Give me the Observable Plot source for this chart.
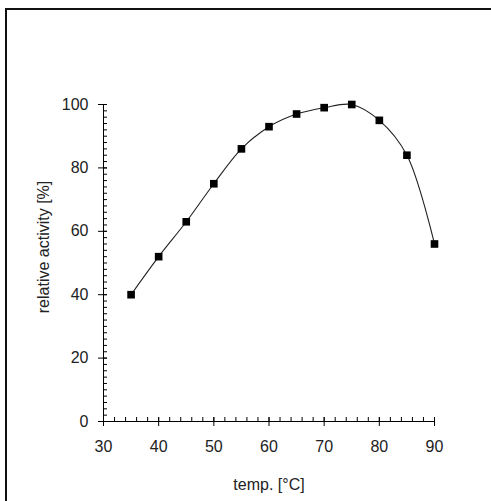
<!DOCTYPE html>
<html><head><meta charset="utf-8">
<script src="https://cdn.jsdelivr.net/npm/d3@7"></script>
<script src="https://cdn.jsdelivr.net/npm/@observablehq/plot@0.6"></script>
<style>
html,body{margin:0;padding:0;background:#fff;overflow:hidden;width:491px;height:501px}
#chart{position:absolute;left:0;top:0}
#frame{position:absolute;left:5px;top:8px;width:600px;height:600px;border-top:2px solid #111;border-left:2px solid #111;pointer-events:none}
</style></head><body>
<div id="chart"></div><div id="frame"></div>
<script>
const temps = [35, 40, 45, 50, 55, 60, 65, 70, 75, 80, 85, 90];
const activity = [40, 52, 63, 75, 86, 93, 97, 99, 100, 95, 84, 56];
const xTicks = [30, 40, 50, 60, 70, 80, 90];
const yTicks = [0, 20, 40, 60, 80, 100];
const xMinor = d3.range(30, 91, 2);
const yMinor = d3.range(0, 101, 2);
const xLabel = "temp. [°C]";
const yLabel = "relative activity [%]";

const data = temps.map((t, i) => ({temp: t, act: activity[i]}));

const chart = Plot.plot({
  width: 491,
  height: 501,
  marginLeft: 103,
  marginRight: 57,
  marginTop: 104,
  marginBottom: 80,
  style: {fontFamily: "'Liberation Sans', Arial, sans-serif", fontSize: "16px", color: "#222", background: "transparent"},
  x: {domain: [30, 90]},
  y: {domain: [0, 100]},
  marks: [
    // minor ticks (inward)
    Plot.axisX(xMinor, {tickSize: 4, dy: -4, fill: "none", label: null, stroke: "#000"}),
    Plot.axisY(yMinor, {tickSize: 4, dx: 4, fill: "none", label: null, stroke: "#000"}),
    // major ticks (crossing)
    Plot.axisX(xTicks, {tickSize: 9, dy: -4, fill: "none", label: null, stroke: "#000"}),
    Plot.axisY(yTicks, {tickSize: 9, dx: 4, fill: "none", label: null, stroke: "#000"}),
    // tick labels
    Plot.axisX(xTicks, {tickSize: 0, tickPadding: 19, label: null, fontSize: 16}),
    Plot.axisY(yTicks, {tickSize: 0, tickPadding: 15, label: null, fontSize: 16}),
    // axis lines
    Plot.ruleY([0], {stroke: "#000"}),
    Plot.ruleX([30], {stroke: "#000"}),
    // axis titles
    Plot.text([xLabel], {frameAnchor: "bottom", dy: 63, lineAnchor: "middle", textAnchor: "middle", fontSize: 16, fill: "#222"}),
    Plot.text([yLabel], {frameAnchor: "left", dx: -60, dy: -16, rotate: -90, lineAnchor: "middle", textAnchor: "middle", fontSize: 16, fill: "#222"}),
    // data
    Plot.line(data, {x: "temp", y: "act", curve: "catmull-rom", stroke: "#222", strokeWidth: 1.1}),
    Plot.dot(data, {x: "temp", y: "act", symbol: "square", r: 4.3, fill: "#000", stroke: "none"})
  ]
});
document.getElementById("chart").appendChild(chart);
</script>
</body></html>
